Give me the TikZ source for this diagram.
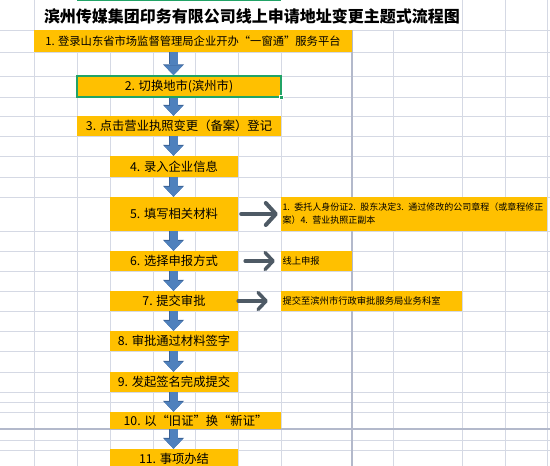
\documentclass[tikz,border=0pt]{standalone}
\usepackage{fontspec}
\setmainfont{Noto Sans CJK SC}
\usetikzlibrary{arrows.meta}
\definecolor{boxgold}{HTML}{FFC000}
\definecolor{gridgray}{HTML}{D5D9E4}
\definecolor{breakgray}{HTML}{B3B9CB}
\definecolor{flowblue}{HTML}{4F81BD}
\definecolor{flowedge}{HTML}{3A6195}
\definecolor{sidegray}{HTML}{4E5A65}
\definecolor{selgreen}{HTML}{21A366}
\tikzset{
  stepbox/.style={fill=boxgold, inner sep=0pt, font=\fontsize{12.3pt}{14pt}\selectfont},
  notebox/.style={fill=boxgold, inner sep=1.5pt, align=left, font=\fontsize{9.3pt}{13pt}\selectfont},
  flow/.style={draw=flowblue, line width=8pt, -{Triangle[length=10pt,width=19pt,line width=0pt]},
    preaction={draw=flowedge, line width=9pt, -{Triangle[length=11pt,width=21pt,line width=0pt]}}},
  side/.style={draw=sidegray, line width=4pt, line cap=round, -{Straight Barb[length=10pt,width=22pt,round]}},
  smallside/.style={side, line width=3.5pt, -{Straight Barb[length=8pt,width=17pt,round]}}
}
\begin{document}
\begin{tikzpicture}[x=1pt, y=-1pt]
  \useasboundingbox (0,0) rectangle (550,466);
  \clip (0,0) rectangle (550,466);
  \foreach \gx in {34,77,110,153,195,238,281,393,462,505,547}
    \draw[gridgray, line width=0.8pt] (\gx,0) -- (\gx,466);
  \foreach \gy in {30,52,76,97,116,136,156,177,197,231,251,271,291,311,331,351,372,392,402,412,440,450}
    \draw[gridgray, line width=0.8pt] (0,\gy) -- (550,\gy);
  \draw[breakgray, line width=1.2pt] (352,0) -- (352,466);
  \draw[breakgray, line width=1.2pt] (0,429) -- (550,429);
  \fill[white] (35,0) rectangle (461,29.5);
  \draw[selgreen, line width=1.5pt] (77,0) -- (281,0);

  \node[font=\fontsize{16pt}{18pt}\selectfont\bfseries] (title) at (252,16) {滨州传媒集团印务有限公司线上申请地址变更主题式流程图};

  \node[stepbox, minimum width=318pt, minimum height=22pt, font=\fontsize{11.3pt}{13pt}\selectfont]
                                                   (s1)  at (193.0, 41.0) {1. 登录山东省市场监督管理局企业开办“一窗通”服务平台};
  \node[stepbox, minimum width=204pt, minimum height=21pt, draw=selgreen, line width=1.5pt]
                                                   (s2)  at (179.0, 86.5) {2. 切换地市(滨州市)};
  \node[stepbox, minimum width=204pt, minimum height=20pt] (s3)  at (179.0,126.0) {3. 点击营业执照变更（备案）登记};
  \node[stepbox, minimum width=128pt, minimum height=21pt] (s4)  at (174.0,166.5) {4. 录入企业信息};
  \node[stepbox, minimum width=128pt, minimum height=34pt] (s5)  at (174.0,214.0) {5. 填写相关材料};
  \node[stepbox, minimum width=128pt, minimum height=20pt] (s6)  at (174.0,261.0) {6. 选择申报方式};
  \node[stepbox, minimum width=128pt, minimum height=20pt] (s7)  at (174.0,301.0) {7. 提交审批};
  \node[stepbox, minimum width=128pt, minimum height=20pt] (s8)  at (174.0,341.0) {8. 审批通过材料签字};
  \node[stepbox, minimum width=128pt, minimum height=20pt] (s9)  at (174.0,382.0) {9. 发起签名完成提交};
  \node[stepbox, minimum width=171pt, minimum height=17pt] (s10) at (195.5,420.5) {10. 以“旧证”换“新证”};
  \node[stepbox, minimum width=128pt, minimum height=20pt] (s11) at (174.0,459.0) {11. 事项办结};

  \node[fill=selgreen, draw=white, line width=0.6pt, minimum size=4pt, inner sep=0pt] (handle) at (s2.south east) {};

  \node[notebox, text width=263pt, minimum height=34pt, font=\fontsize{9pt}{13pt}\selectfont] (n5) at (414.0,214.0)
    {1. 委托人身份证2. 股东决定3. 通过修改的公司章程（或章程修正\\案）4. 营业执照正副本};
  \node[notebox, text width=68pt,  minimum height=20pt] (n6) at (316.5,261.0) {线上申报};
  \node[notebox, text width=178pt, minimum height=20pt] (n7) at (371.5,301.0) {提交至滨州市行政审批服务局业务科室};

  \coordinate (axis) at (173.5,0);
  \draw[flow] (s1.south -| axis)  -- (s2.north -| axis);
  \draw[flow] (s2.south -| axis)  -- (s3.north -| axis);
  \draw[flow] (s3.south -| axis)  -- (s4.north -| axis);
  \draw[flow] (s4.south -| axis)  -- (s5.north -| axis);
  \draw[flow] (s5.south -| axis)  -- (s6.north -| axis);
  \draw[flow] (s6.south -| axis)  -- (s7.north -| axis);
  \draw[flow] (s7.south -| axis)  -- (s8.north -| axis);
  \draw[flow] (s8.south -| axis)  -- (s9.north -| axis);
  \draw[flow] (s9.south -| axis)  -- (s10.north -| axis);
  \draw[flow] (s10.south -| axis) -- (s11.north -| axis);

  \draw[side, shorten <=3pt, shorten >=3pt]       (s5.east) -- (n5.west);
  \draw[smallside, shorten <=7pt, shorten >=6pt]  (s6.east) -- (n6.west);
  \draw[smallside, shorten >=13pt]                (s7.east) -- (n7.west);
\end{tikzpicture}
\end{document}
